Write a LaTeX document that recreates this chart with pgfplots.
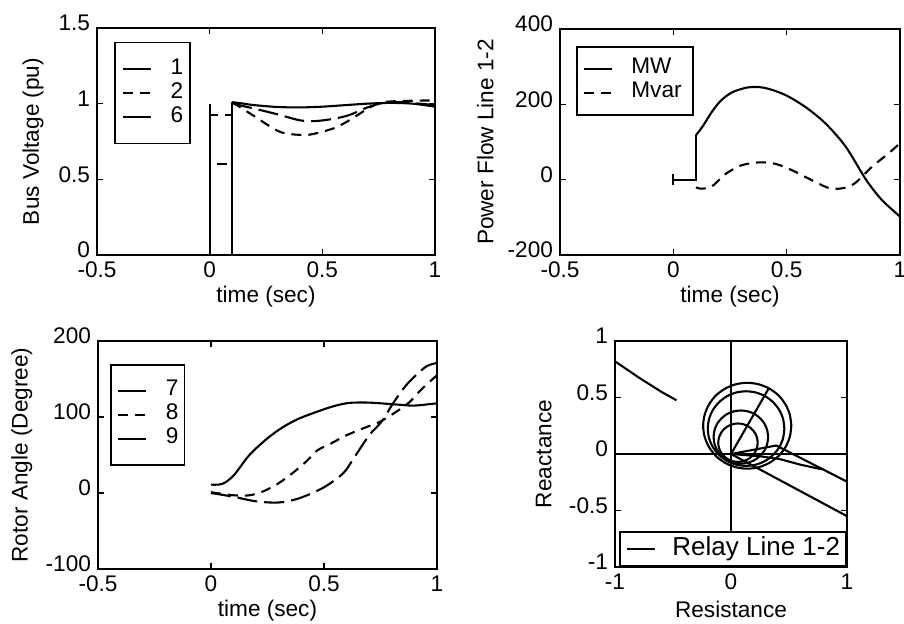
\documentclass[border=0pt]{standalone}
\usepackage{fontspec}
\setmainfont{Liberation Sans}
\usepackage{pgfplots}
\pgfplotsset{compat=1.18}
\newcommand{\fs}{\fontsize{11.3pt}{13pt}\selectfont}
\pgfplotsset{
  mat/.style={
    scale only axis,
    axis line style={line width=0.9pt},
    tick align=inside,
    xtick pos=both, ytick pos=both,
    xticklabel pos=left, yticklabel pos=left,
    major tick length=3pt,
    every tick/.style={line width=0.8pt, black},
    tick label style={font=\fs},
    yticklabel style={yshift=2.5pt},
    label style={font=\fs},
    /pgf/number format/assume math mode=true,
    legend cell align=left,
    legend style={draw=black, line width=0.9pt, fill=white, font=\fs, row sep=0pt,
      /tikz/column sep=9.5pt, anchor=north west,
      nodes={inner sep=0pt, text height=8.5pt, text depth=3.5pt}},
    legend image code/.code={\draw[#1] (0pt,0pt) -- (14pt,0pt);},
    every axis plot/.append style={line width=1.05pt, black},
    xlabel style={at={(axis description cs:0.5,0)}, anchor=center, yshift=-21pt},
    ylabel style={anchor=center},
  },
  dsh/.style={dash pattern=on 5pt off 3.5pt},
  ldsh/.style={dash pattern=on 10pt off 3.5pt},
}
\begin{document}
\begin{tikzpicture}
\useasboundingbox (0,0) rectangle (452pt,312pt);
% ---------------- top left ----------------
\begin{axis}[mat, at={(48.5pt,184.5pt)}, anchor=south west, width=169pt, height=113.5pt,
  xmin=-0.5, xmax=1, ymin=0, ymax=1.5, xtick={-0.5,0,0.5,1}, ytick={0,0.5,1,1.5},
  xlabel={time (sec)}, ylabel={Bus Voltage (pu)},
  ylabel style={at={(axis description cs:-0.189,0.5)}},
  legend style={at={(0.051,0.94)}, inner xsep=3.2pt, inner ysep=7.25pt}]
\addplot[smooth] coordinates {(0.1,1.01)(0.15,1.0)(0.2,0.99)(0.3,0.978)(0.4,0.975)(0.5,0.98)(0.6,0.99)(0.7,1.0)(0.8,1.005)(0.9,1.0)(1,0.98)};
\addlegendentry{1}
\addplot[smooth,dsh] coordinates {(0.1,1.01)(0.19,0.925)(0.31,0.815)(0.41,0.793)(0.46,0.8)(0.55,0.837)(0.62,0.89)(0.7,0.965)(0.77,1.01)(0.92,1.02)(1,1.02)};
\addlegendentry{2}
\addplot[smooth,ldsh,legend image post style={solid}] coordinates {(0.1,1.0)(0.19,0.97)(0.3,0.93)(0.4,0.89)(0.47,0.885)(0.55,0.9)(0.62,0.925)(0.7,0.975)(0.77,1.005)(0.85,1.01)(1,0.99)};
\addlegendentry{6}
\addplot[forget plot] coordinates {(0,1)(0,0)(0.1,0)(0.1,1.01)};
\addplot[forget plot,dsh] coordinates {(0,1)(0,0.6)(0.1,0.6)(0.1,1.01)};
\addplot[forget plot,ldsh] coordinates {(0,1)(0,0.925)(0.1,0.925)(0.1,1.0)};
\end{axis}
% ---------------- top right ----------------
\begin{axis}[mat, at={(280pt,184.5pt)}, anchor=south west, width=170pt, height=113pt,
  xmin=-0.5, xmax=1, ymin=-200, ymax=400, xtick={-0.5,0,0.5,1}, ytick={-200,0,200,400},
  xlabel={time (sec)}, ylabel={Power Flow Line 1-2},
  ylabel style={at={(axis description cs:-0.22,0.5)}},
  legend style={at={(0.047,0.925)}, inner xsep=3pt, inner ysep=5pt, /tikz/column sep=9.2pt,
    nodes={text width=28pt}}]
\addplot[smooth] coordinates {(0.1,118)(0.13,142)(0.17,180)(0.21,210)(0.26,232)(0.33,245)(0.4,244)(0.49,226)(0.58,194)(0.67,150)(0.76,88)(0.85,0)(0.92,-54)(1,-98)};
\addlegendentry{MW}
\addplot[smooth,dsh] coordinates {(0.1,-20)(0.12,-24)(0.17,-18)(0.23,15)(0.3,38)(0.38,46)(0.45,42)(0.52,26)(0.61,-1)(0.685,-22)(0.745,-23)(0.8,-10)(0.876,34)(0.95,70)(1,97)};
\addlegendentry{Mvar}
\addplot[forget plot] coordinates {(0,14)(0,-14)(0,0)(0.1,0)(0.1,118)};
\end{axis}
% ---------------- bottom left ----------------
\begin{axis}[mat, at={(49pt,27.5pt)}, anchor=south west, width=169.5pt, height=114pt,
  xmin=-0.5, xmax=1, ymin=-100, ymax=200, xtick={-0.5,0,0.5,1}, ytick={-100,0,100,200},
  xlabel={time (sec)}, ylabel={Rotor Angle (Degree)},
  ylabel style={at={(axis description cs:-0.225,0.5)}},
  legend style={at={(0.035,0.9)}, inner xsep=3pt, inner ysep=7pt}]
\addplot[smooth] coordinates {(0,11)(0.05,12)(0.1,23)(0.17,50)(0.25,72)(0.32,87)(0.39,98)(0.47,107)(0.54,114)(0.61,118.5)(0.69,119)(0.75,118)(0.84,116)(0.9,115)(1,118)};
\addlegendentry{7}
\addplot[smooth,dsh] coordinates {(0,1)(0.1,-3)(0.17,-3)(0.23,2)(0.3,13)(0.36,26)(0.42,41)(0.47,56)(0.53,65)(0.6,76)(0.69,87)(0.75,94)(0.82,107)(0.88,120)(0.93,136)(1,155)};
\addlegendentry{8}
\addplot[smooth,ldsh,legend image post style={solid}] coordinates {(0,0)(0.1,-5)(0.2,-11)(0.3,-12.5)(0.39,-7)(0.5,7.5)(0.585,26)(0.63,45)(0.7,76)(0.755,94)(0.81,120)(0.87,144)(0.95,166)(1,171)};
\addlegendentry{9}
\end{axis}
% ---------------- bottom right ----------------
\begin{axis}[mat, at={(307.5pt,28.5pt)}, anchor=south west, width=116pt, height=113pt,
  xmin=-1, xmax=1, ymin=-1, ymax=1, xtick={-1,0,1}, ytick={-1,-0.5,0,0.5,1},
  xlabel={Resistance}, ylabel={Reactance},
  ylabel style={at={(axis description cs:-0.307,0.5)}},
  legend style={at={(1,0)}, anchor=south east, inner xsep=3pt, inner ysep=2.25pt,
    font=\fontsize{13pt}{15pt}\selectfont, /tikz/column sep=8.3pt,
    nodes={text height=9.5pt, text depth=3pt}}]
\addplot[black, mark=none] coordinates {(-1,0.82)(-0.8,0.68)(-0.6,0.55)(-0.47,0.475)};
\addlegendentry{Relay Line 1-2}
\addplot[forget plot] coordinates {(0,-1)(0,1)};
\addplot[forget plot] coordinates {(-1,0)(1,0)};
\addplot[forget plot] coordinates {(0,0)(0.325,0.58)};
\addplot[forget plot] coordinates {(0,0)(0.39,0.075)(1,-0.245)};
\addplot[forget plot] coordinates {(0,0)(0.25,-0.02)(0.42,-0.045)(0.6,-0.095)(0.78,-0.135)};
\addplot[forget plot] coordinates {(0,0)(1,-0.55)};
\addplot[forget plot,smooth] coordinates {(0.52,0.25)(0.507,0.348)(0.469,0.44)(0.409,0.519)(0.33,0.579)(0.238,0.617)(0.14,0.63)(0.042,0.617)(-0.05,0.579)(-0.129,0.519)(-0.189,0.44)(-0.227,0.348)(-0.24,0.25)(-0.227,0.152)(-0.189,0.06)(-0.129,-0.019)(-0.05,-0.079)(0.042,-0.117)(0.14,-0.13)(0.238,-0.117)(0.33,-0.079)(0.409,-0.019)(0.469,0.06)(0.507,0.152)(0.52,0.25)};
\addplot[forget plot,smooth] coordinates {(0.46,0.225)(0.449,0.31)(0.416,0.39)(0.363,0.458)(0.295,0.511)(0.215,0.544)(0.13,0.555)(0.045,0.544)(-0.035,0.511)(-0.103,0.458)(-0.156,0.39)(-0.189,0.31)(-0.2,0.225)(-0.189,0.14)(-0.156,0.06)(-0.103,-0.008)(-0.035,-0.061)(0.045,-0.094)(0.13,-0.105)(0.215,-0.094)(0.295,-0.061)(0.363,-0.008)(0.416,0.06)(0.449,0.14)(0.46,0.225)};
\addplot[forget plot,smooth] coordinates {(0.32,0.15)(0.312,0.211)(0.289,0.268)(0.251,0.316)(0.203,0.354)(0.146,0.377)(0.085,0.385)(0.024,0.377)(-0.033,0.354)(-0.081,0.316)(-0.119,0.268)(-0.142,0.211)(-0.15,0.15)(-0.142,0.089)(-0.119,0.032)(-0.081,-0.016)(-0.033,-0.054)(0.024,-0.077)(0.085,-0.085)(0.146,-0.077)(0.203,-0.054)(0.251,-0.016)(0.289,0.032)(0.312,0.089)(0.32,0.15)};
\addplot[forget plot,smooth] coordinates {(0.23,0.1)(0.224,0.144)(0.207,0.185)(0.18,0.22)(0.145,0.247)(0.104,0.264)(0.06,0.27)(0.016,0.264)(-0.025,0.247)(-0.06,0.22)(-0.087,0.185)(-0.104,0.144)(-0.11,0.1)(-0.104,0.056)(-0.087,0.015)(-0.06,-0.02)(-0.025,-0.047)(0.016,-0.064)(0.06,-0.07)(0.104,-0.064)(0.145,-0.047)(0.18,-0.02)(0.207,0.015)(0.224,0.056)(0.23,0.1)};
\end{axis}
\end{tikzpicture}
\end{document}
